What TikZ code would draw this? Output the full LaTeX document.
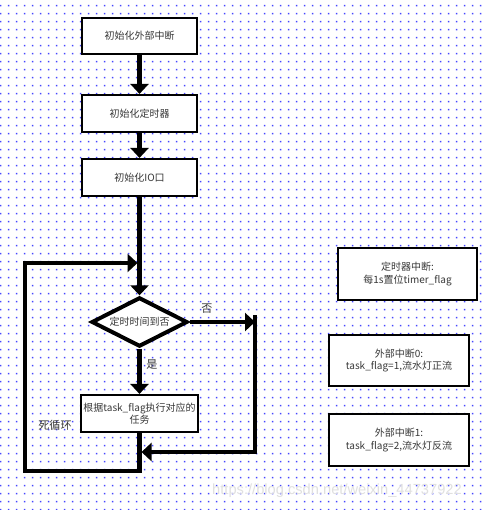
\documentclass[tikz,border=0pt]{standalone}
\usepackage{fontspec}
\setmainfont{Noto Sans CJK SC}
\newfontfamily\wmfont{Liberation Sans}
\usetikzlibrary{arrows.meta,shapes.geometric}
\definecolor{dotc}{RGB}{70,70,255}
\definecolor{txt}{RGB}{55,55,55}
\begin{document}
\begin{tikzpicture}[x=0.75pt,y=-0.75pt,
  every node/.style={text=txt},
  box/.style={draw=black,line width=1.6pt,fill=white,inner sep=0pt,align=center,
    font=\fontsize{7.5pt}{9.5pt}\selectfont},
  dec/.style={shape=diamond,aspect=2,draw=black,line width=3pt,fill=white,inner sep=0pt,
    minimum width=72pt,minimum height=37pt,font=\fontsize{7.5pt}{9.5pt}\selectfont},
  lbl/.style={font=\fontsize{8.3pt}{10pt}\selectfont,inner sep=0pt},
  link/.style={line width=3.2pt,line join=miter},
  conn/.style={link,-{Triangle[width=13.5pt,length=7.5pt]}}]
\useasboundingbox (0,0) rectangle (483,510);
\fill[white] (0,0) rectangle (483,510);
% dotted grid
\fill[dotc] \foreach \i in {0,...,60} { \foreach \j in {0,...,63} {
  ({0.7+8*\i-0.75},{5.7+8*\j-0.75}) rectangle +(1.5,1.5) } };
% watermark
\node[text=black!12,font=\wmfont\fontsize{11pt}{13pt}\selectfont] (wm) at (337,491) {https://blog.csdn.net/weixin\_44737922};
% main flow
\node[box,minimum width=86.25pt,minimum height=27pt] (b1) at (139.5,36) {初始化外部中断};
\node[box,minimum width=86.25pt,minimum height=27.75pt] (b2) at (139.5,113.5) {初始化定时器};
\node[box,minimum width=86.25pt,minimum height=27.75pt] (b3) at (139.5,177.5) {初始化IO口};
\node[dec] (d) at (139.5,322) {定时时间到否};
\node[box,minimum width=87.75pt,minimum height=27.75pt] (t) at (139.5,413.5) {根据task\_flag执行对应的\\任务};
% side boxes
\node[box,minimum width=104.25pt,minimum height=39pt] (ta) at (407.5,274) {定时器中断:\\每1s置位timer\_flag};
\node[box,minimum width=105pt,minimum height=38.25pt] (tb) at (399,360.5) {外部中断0:\\task\_flag=1,流水灯正流};
\node[box,minimum width=105pt,minimum height=39pt] (tc) at (399,440) {外部中断1:\\task\_flag=2,流水灯反流};
% loop coordinates
\coordinate (lb) at (139.5,471);
\coordinate (ll) at (25,471);
\coordinate (lt) at (25,263);
\coordinate (jt) at (137.5,263);
\coordinate (rt) at (255,322);
\coordinate (rtop) at (255,315);
\coordinate (rb) at (255,452);
\coordinate (mb) at (141.5,452);
% connectors
\draw[conn] (b1) -- (b2);
\draw[conn] (b2) -- (b3);
\draw[conn] (b3) -- (d);
\draw[conn] (d) -- (t);
\draw[conn] (t.south) -- (lb) -- (ll) -- (lt) -- (jt);
\draw[conn] (d.east) -- (rt);
\draw[conn] (rtop) -- (rb) -- (mb);
% labels
\node[lbl] (no) at (207,309) {否};
\node[lbl] (yes) at (152,365) {是};
\node[lbl] (loop) at (55,425) {死循环};
\end{tikzpicture}
\end{document}
